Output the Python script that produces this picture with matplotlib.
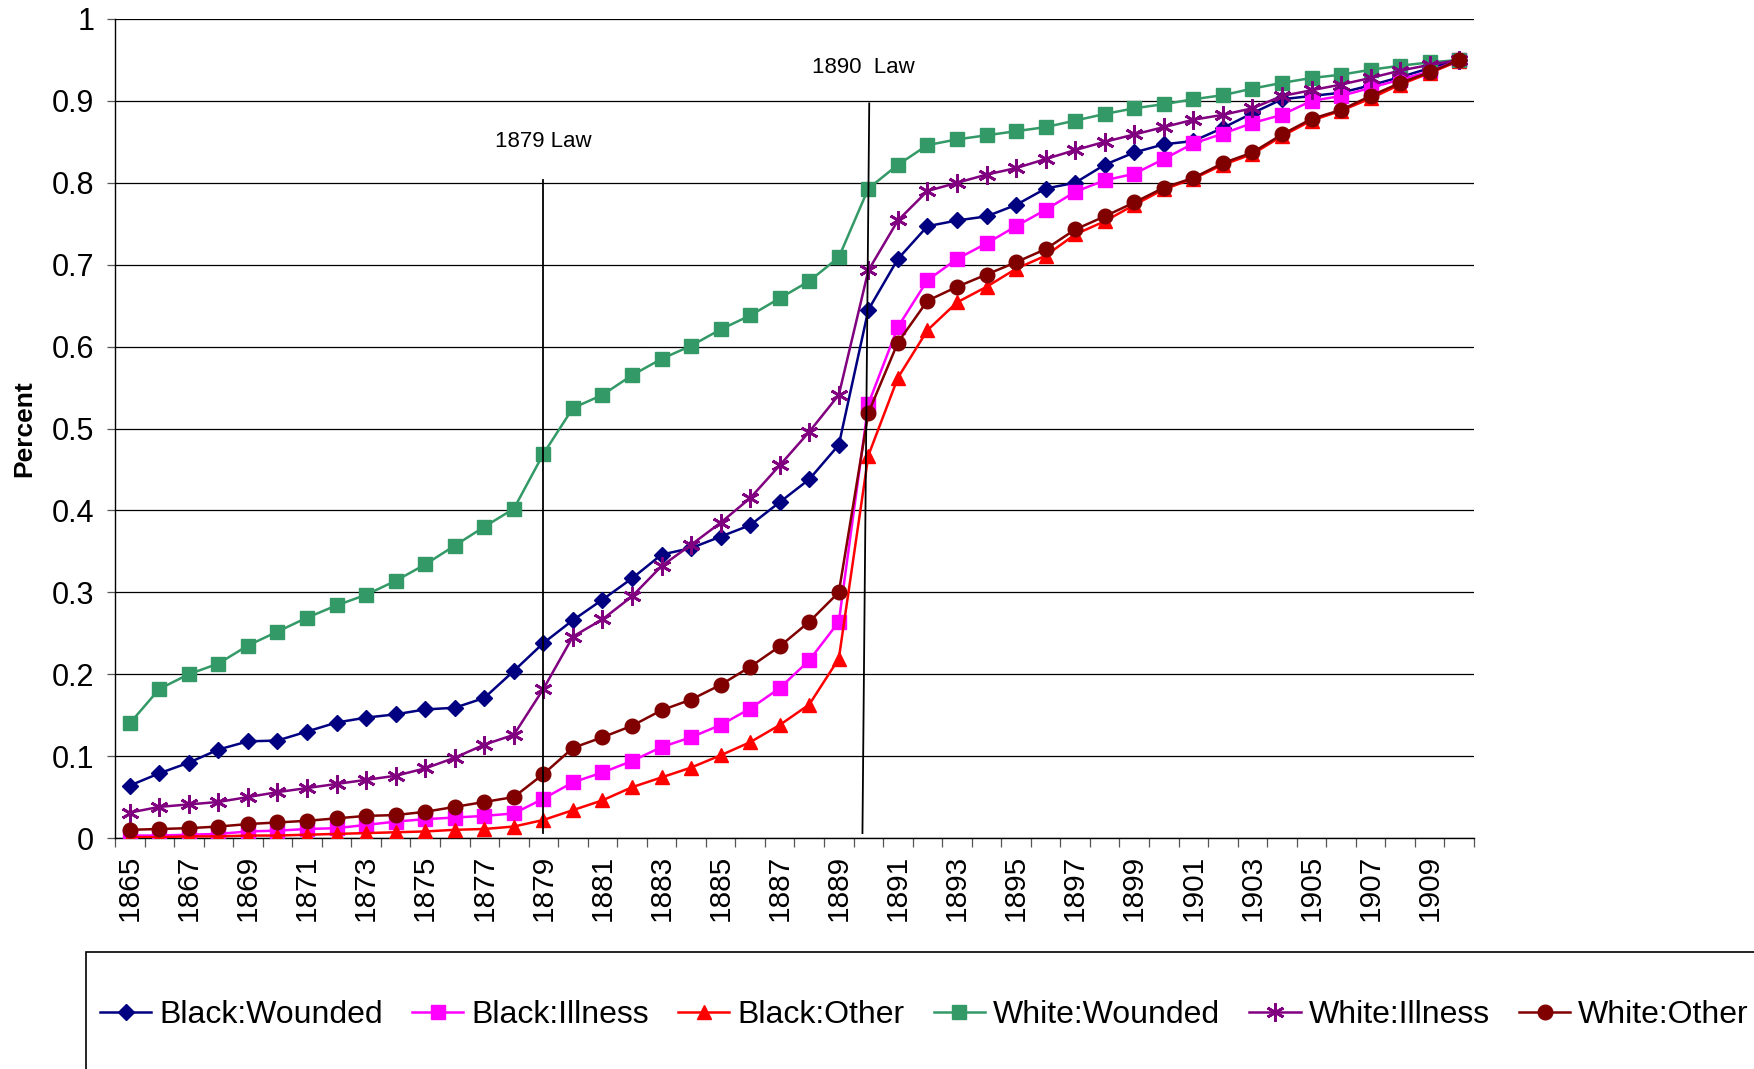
import numpy as np
import matplotlib
matplotlib.use('Agg')
import matplotlib.pyplot as plt
from matplotlib.patches import Rectangle

plt.rcParams['font.family'] = 'Liberation Sans'

years = list(range(1865, 1911))

black_wounded = [0.064, 0.079, 0.092, 0.108, 0.118, 0.119, 0.130, 0.141, 0.147, 0.151,
                 0.157, 0.159, 0.171, 0.204, 0.238, 0.266, 0.291, 0.317, 0.346, 0.354,
                 0.368, 0.382, 0.410, 0.438, 0.480, 0.645, 0.707, 0.747, 0.754, 0.759,
                 0.773, 0.793, 0.800, 0.822, 0.837, 0.847, 0.851, 0.867, 0.885, 0.902,
                 0.906, 0.910, 0.919, 0.929, 0.940, 0.950]
black_illness = [0.003, 0.003, 0.004, 0.005, 0.008, 0.009, 0.011, 0.012, 0.016, 0.020,
                 0.023, 0.025, 0.027, 0.030, 0.048, 0.068, 0.080, 0.094, 0.111, 0.123,
                 0.138, 0.158, 0.183, 0.217, 0.264, 0.530, 0.624, 0.681, 0.707, 0.726,
                 0.747, 0.767, 0.789, 0.803, 0.811, 0.829, 0.848, 0.860, 0.873, 0.883,
                 0.900, 0.906, 0.916, 0.926, 0.936, 0.950]
black_other = [0.001, 0.001, 0.002, 0.002, 0.003, 0.003, 0.004, 0.005, 0.006, 0.007,
               0.008, 0.010, 0.011, 0.014, 0.022, 0.034, 0.046, 0.062, 0.074, 0.086,
               0.101, 0.117, 0.138, 0.163, 0.219, 0.467, 0.562, 0.620, 0.654, 0.673,
               0.695, 0.711, 0.737, 0.753, 0.773, 0.792, 0.805, 0.822, 0.835, 0.857,
               0.876, 0.888, 0.903, 0.920, 0.934, 0.949]
white_wounded = [0.140, 0.182, 0.200, 0.213, 0.235, 0.252, 0.269, 0.284, 0.297, 0.314,
                 0.334, 0.357, 0.380, 0.402, 0.469, 0.525, 0.541, 0.565, 0.585, 0.601,
                 0.621, 0.638, 0.659, 0.680, 0.709, 0.793, 0.822, 0.846, 0.853, 0.858,
                 0.863, 0.868, 0.876, 0.884, 0.891, 0.896, 0.902, 0.907, 0.915, 0.922,
                 0.928, 0.932, 0.938, 0.943, 0.947, 0.950]
white_illness = [0.031, 0.038, 0.041, 0.044, 0.050, 0.056, 0.061, 0.066, 0.071, 0.076,
                 0.085, 0.098, 0.114, 0.126, 0.182, 0.246, 0.267, 0.295, 0.332, 0.358,
                 0.385, 0.415, 0.455, 0.496, 0.541, 0.693, 0.754, 0.790, 0.800, 0.810,
                 0.818, 0.829, 0.840, 0.850, 0.859, 0.868, 0.877, 0.883, 0.891, 0.906,
                 0.913, 0.920, 0.928, 0.937, 0.944, 0.950]
white_other = [0.010, 0.011, 0.012, 0.014, 0.017, 0.019, 0.021, 0.024, 0.027, 0.028,
               0.032, 0.038, 0.044, 0.050, 0.078, 0.110, 0.123, 0.137, 0.156, 0.169,
               0.187, 0.209, 0.234, 0.264, 0.300, 0.519, 0.605, 0.656, 0.673, 0.688,
               0.703, 0.719, 0.743, 0.759, 0.776, 0.794, 0.806, 0.824, 0.837, 0.859,
               0.878, 0.889, 0.906, 0.922, 0.935, 0.950]

series = [
    ('Black:Wounded', black_wounded, '#000080', 'D', 8),
    ('Black:Illness', black_illness, '#FF00FF', 's', 10.5),
    ('Black:Other', black_other, '#FF0000', '^', 10.5),
    ('White:Wounded', white_wounded, '#339966', 's', 10.5),
    ('White:Illness', white_illness, '#800080', (6, 2, 0), 13),
    ('White:Other', white_other, '#800000', 'o', 10.5),
]

fig = plt.figure(figsize=(17.54, 10.69), dpi=100)
ax = fig.add_axes([115 / 1754, 1 - 838 / 1069, 1359 / 1754, 819 / 1069])

x = np.arange(len(years))
handles = []
for name, vals, col, mk, ms in series:
    mew = 2 if mk == (6, 2, 0) else 1
    h, = ax.plot(x, vals, color=col, lw=1.8, marker=mk, markersize=ms,
                 markerfacecolor=col, markeredgecolor=col, markeredgewidth=mew,
                 label=name, zorder=3)
    handles.append(h)

# law marker lines (drawn shapes in the original)
ax.plot([14, 14], [0.006, 0.804], color='black', lw=1.3, zorder=4)
ax.plot([24.8, 25.03], [0.006, 0.897], color='black', lw=1.3, zorder=4)
ax.text(14, 0.85, '1879 Law', ha='center', va='center', fontsize=16)
ax.text(24.82, 0.941, '1890  Law', ha='center', va='center', fontsize=16)

ax.set_xlim(-0.5, len(years) - 0.5)
ax.set_ylim(0, 1)
yt = np.arange(0, 1.01, 0.1)
ax.set_yticks(yt)
ax.set_yticklabels(['0', '0.1', '0.2', '0.3', '0.4', '0.5', '0.6', '0.7', '0.8', '0.9', '1'])
ax.yaxis.grid(True, color='black', lw=0.9)
ax.set_axisbelow(True)

ax.set_xticks(x[::2])
ax.set_xticklabels([str(y) for y in years[::2]], rotation=90)
ax.set_xticks(np.arange(-0.5, len(years)), minor=True)
ax.tick_params(axis='x', which='major', length=0, pad=12, labelsize=21.5)
ax.tick_params(axis='x', which='minor', length=6.5, width=0.9, color='#555555')
ax.tick_params(axis='y', length=6, width=0.9, pad=9, labelsize=22, color='#555555')

ax.spines['top'].set_visible(False)
ax.spines['right'].set_visible(False)
ax.spines['left'].set_linewidth(1)
ax.spines['bottom'].set_linewidth(1)

ax.set_ylabel('Percent', fontsize=19, fontweight='bold')
ax.yaxis.set_label_coords(-0.058, 0.5)

fig.add_artist(Rectangle((86 / 1754, -0.05), 1.0, (1069 - 952) / 1069 + 0.05,
                         transform=fig.transFigure, fill=False, lw=1.2, ec='black'))
fig.legend(handles=handles, loc='center left', bbox_to_anchor=(100 / 1754, 0.0505),
           ncol=6, frameon=False, fontsize=23, handlelength=1.6, handletextpad=0.25,
           columnspacing=0.92, borderpad=0, borderaxespad=0)

plt.savefig('out.png', dpi=100)
